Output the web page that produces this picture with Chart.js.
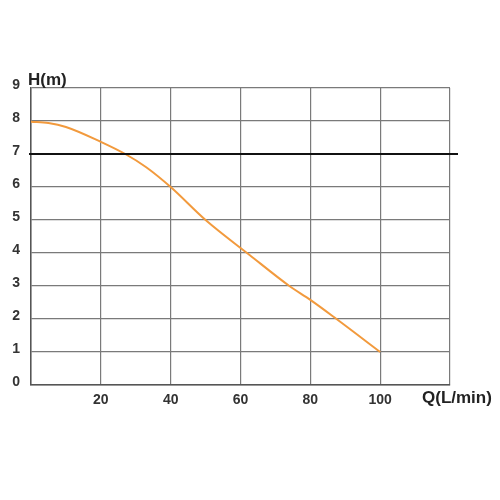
<!DOCTYPE html>
<html>
<head>
<meta charset="utf-8">
<script src="https://cdn.jsdelivr.net/npm/chart.js@4/dist/chart.umd.min.js"></script>
<style>
  html, body { margin: 0; padding: 0; background: #fff; }
  #wrap { width: 500px; height: 500px; }
</style>
</head>
<body>
<div id="wrap"><canvas id="myChart" width="500" height="500"></canvas></div>
<script>
// 流量 Q(L/min)
var flow = [0, 5, 10, 20, 27, 33, 40, 50, 62.6, 74, 80, 87.5, 100];
// 扬程 H(m)
var head = [7.98, 7.94, 7.82, 7.37, 7.0, 6.6, 6.0, 5.0, 3.94, 3.0, 2.58, 2.0, 1.0];
var xTicks = [20, 40, 60, 80, 100];
var yTicks = [0, 1, 2, 3, 4, 5, 6, 7, 8, 9];
var refHead = 7;

function getPoints() {
    var pts = [];
    for (var i = 0; i < flow.length; i++) {
        pts.push({ x: flow[i], y: head[i] });
    }
    return pts;
}

var tickFont = { family: 'Liberation Sans, Arial, sans-serif', size: 14, weight: 'bold' };

// 7m 参考线和坐标轴标题
var extras = {
    id: 'extras',
    afterDatasetsDraw: function (chart) {
        var c = chart.ctx, a = chart.chartArea;
        var y = chart.scales.y.getPixelForValue(refHead);
        c.save();
        c.strokeStyle = '#111';
        c.lineWidth = 2;
        c.beginPath();
        c.moveTo(a.left - 2, y);
        c.lineTo(a.right + 8, y);
        c.stroke();
        c.fillStyle = '#222';
        c.font = 'bold 17px Liberation Sans, Arial, sans-serif';
        c.textBaseline = 'middle';
        c.textAlign = 'left';
        c.fillText('H(m)', a.left - 3, a.top - 8);
        c.fillText('Q(L/min)', a.right - 28, a.bottom + 13);
        c.restore();
    }
};

var ctx = document.getElementById('myChart');
var myChart = new Chart(ctx, {
    type: 'scatter',
    data: {
        datasets: [{
            data: getPoints(),
            showLine: true,
            borderColor: '#F29A3D',
            borderWidth: 2,
            pointRadius: 0,
            cubicInterpolationMode: 'monotone',
            fill: false
        }]
    },
    options: {
        responsive: false,
        animation: false,
        layout: { padding: { left: 0, right: 50, top: 88, bottom: 85 } },
        plugins: { legend: { display: false }, tooltip: { enabled: false } },
        scales: {
            x: {
                type: 'linear',
                min: 0,
                max: 120,
                afterFit: function (s) { s.height = 30; },
                afterBuildTicks: function (s) {
                    s.ticks = [0, 20, 40, 60, 80, 100, 120].map(function (v) { return { value: v }; });
                },
                ticks: {
                    color: '#333',
                    font: tickFont,
                    padding: 7,
                    maxRotation: 0,
                    callback: function (v) { return xTicks.indexOf(v) >= 0 ? String(v) : ''; }
                },
                grid: { color: '#7a7a7a', lineWidth: 1.2, drawTicks: false },
                border: { color: '#555', width: 1.5 }
            },
            y: {
                type: 'linear',
                min: 0,
                max: 9,
                afterFit: function (s) { s.width = 31; },
                afterBuildTicks: function (s) {
                    s.ticks = yTicks.map(function (v) { return { value: v }; });
                },
                ticks: {
                    color: '#333',
                    font: tickFont,
                    padding: 11,
                    labelOffset: -3
                },
                grid: { color: '#7a7a7a', lineWidth: 1.2, drawTicks: false },
                border: { color: '#555', width: 1.5 }
            }
        }
    },
    plugins: [extras]
});
</script>
</body>
</html>
